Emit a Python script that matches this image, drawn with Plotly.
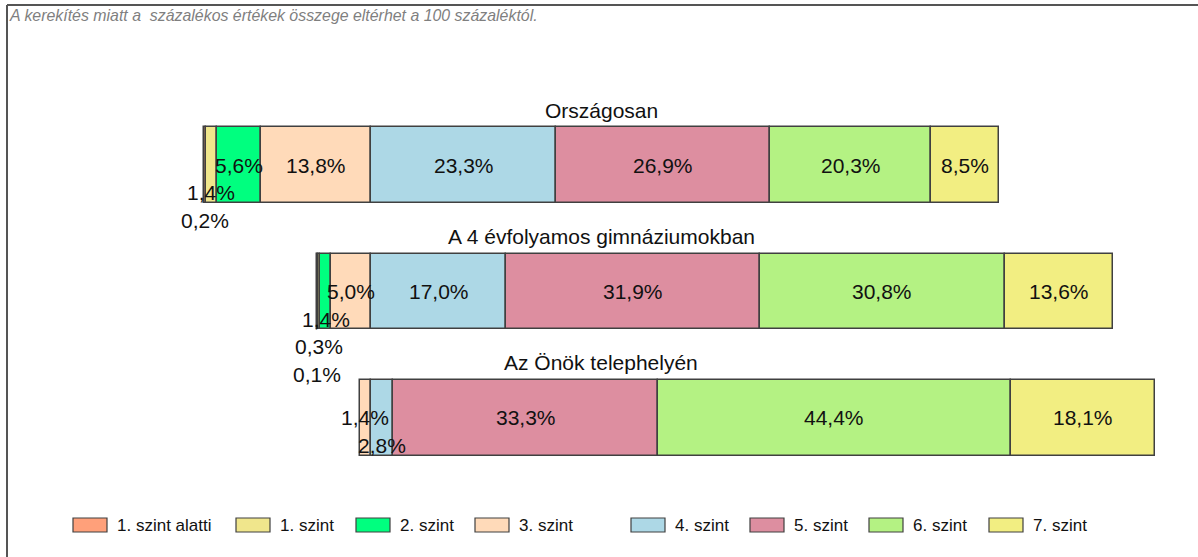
import plotly.graph_objects as go

# ---------------- data ----------------
LEVELS = ["1. szint alatti", "1. szint", "2. szint", "3. szint",
          "4. szint", "5. szint", "6. szint", "7. szint"]
GROUPS = ["Országosan", "A 4 évfolyamos gimnáziumokban", "Az Önök telephelyén"]
ORSZAGOSAN = [0.2, 1.4, 5.6, 13.8, 23.3, 26.9, 20.3, 8.5]
GIMNAZIUM4 = [0.1, 0.3, 1.4, 5.0, 17.0, 31.9, 30.8, 13.6]
TELEPHELY = [0.0, 0.0, 0.0, 1.4, 2.8, 33.3, 44.4, 18.1]
NOTE = "A kerekítés miatt a  százalékos értékek összege eltérhet a 100 százaléktól."

# ---------------- style ----------------
COLORS = ["#FFA07A", "#F0E68C", "#00FF7F", "#FFDAB9",
          "#ADD8E6", "#DD8EA0", "#B4F283", "#F2EE82"]
W, H = 1198, 557
FONT = "Liberation Sans, Arial, sans-serif"
SPLIT = 4  # levels left of the alignment line
# label drop (in steps) for small segments, per group / level index
LABEL_DROP = {(0, 0): 2, (0, 1): 1, (1, 0): 3, (1, 1): 2, (1, 2): 1, (2, 4): 1}
DROP_STEP = 27.5
LEGEND_SWATCH_X = [73, 236, 356, 475, 631, 750, 869, 989]

data = [ORSZAGOSAN, GIMNAZIUM4, TELEPHELY]
starts = [-sum(row[:SPLIT]) for row in data]

fig = go.Figure()
for i, lvl in enumerate(LEVELS):
    xs, bases = [], []
    for g, row in enumerate(data):
        v = row[i]
        xs.append(v if v > 0 else None)
        bases.append(starts[g] + sum(row[:i]))
    fig.add_trace(go.Bar(
        y=list(range(len(GROUPS))), x=xs, base=bases, orientation="h",
        name=lvl, width=0.6,
        marker=dict(color=COLORS[i], line=dict(color="#404040", width=1.5)),
        hoverinfo="x+name", showlegend=False,
    ))

ann = []
# value labels
for g, row in enumerate(data):
    for i, v in enumerate(row):
        if v <= 0:
            continue
        cx = starts[g] + sum(row[:i]) + v / 2
        ann.append(dict(
            x=cx, y=g, xref="x", yref="y", showarrow=False,
            text=f"{v:.1f}".replace(".", ",") + "%",
            yshift=-LABEL_DROP.get((g, i), 0) * DROP_STEP,
            font=dict(family=FONT, size=21, color="#111111"),
        ))
# group titles
for g, name in enumerate(GROUPS):
    ann.append(dict(
        x=601 / W, y=g, xref="paper", yref="y", showarrow=False,
        text=name, yshift=55,
        font=dict(family=FONT, size=21, color="#111111"),
    ))
# note
ann.append(dict(
    x=7 / W, y=1 - 16 / H, xref="paper", yref="paper", showarrow=False,
    xanchor="left", yanchor="middle", text=f"<i>{NOTE}</i>",
    font=dict(family=FONT, size=15.9, color="#7f7f7f"),
))

shapes = []
# custom legend
for i, lvl in enumerate(LEVELS):
    x0 = LEGEND_SWATCH_X[i]
    shapes.append(dict(
        type="rect", xref="paper", yref="paper",
        x0=x0 / W, x1=(x0 + 34) / W, y0=1 - 532 / H, y1=1 - 518 / H,
        fillcolor=COLORS[i], line=dict(color="#404040", width=1.2),
    ))
    ann.append(dict(
        x=(x0 + 42) / W, y=1 - 525 / H, xref="paper", yref="paper",
        showarrow=False, xanchor="left", yanchor="middle", text=lvl,
        font=dict(family=FONT, size=17, color="#111111"),
    ))
# frame (top and left)
shapes.append(dict(type="line", xref="paper", yref="paper",
                   x0=7 / W, x1=1.0, y0=1 - 5 / H, y1=1 - 5 / H,
                   line=dict(color="#555555", width=2)))
shapes.append(dict(type="line", xref="paper", yref="paper",
                   x0=7 / W, x1=7 / W, y0=1 - 5 / H, y1=0,
                   line=dict(color="#555555", width=2)))

PX_PER_PCT = 7.95
ZERO_PX = 371
fig.update_layout(
    width=W, height=H, margin=dict(l=0, r=0, t=0, b=0),
    paper_bgcolor="white", plot_bgcolor="white",
    barmode="overlay", bargap=0,
    xaxis=dict(range=[-ZERO_PX / PX_PER_PCT, (W - ZERO_PX) / PX_PER_PCT],
               domain=[0, 1], visible=False, fixedrange=True),
    yaxis=dict(range=[2.5, -0.5], domain=[76 / H, 455 / H],
               visible=False, fixedrange=True),
    annotations=ann, shapes=shapes,
    font=dict(family=FONT),
)

fig.write_html(
    "out.html",
    config={"displayModeBar": False},
    post_script="document.body.style.margin='0px';document.body.style.overflow='hidden';",
)
